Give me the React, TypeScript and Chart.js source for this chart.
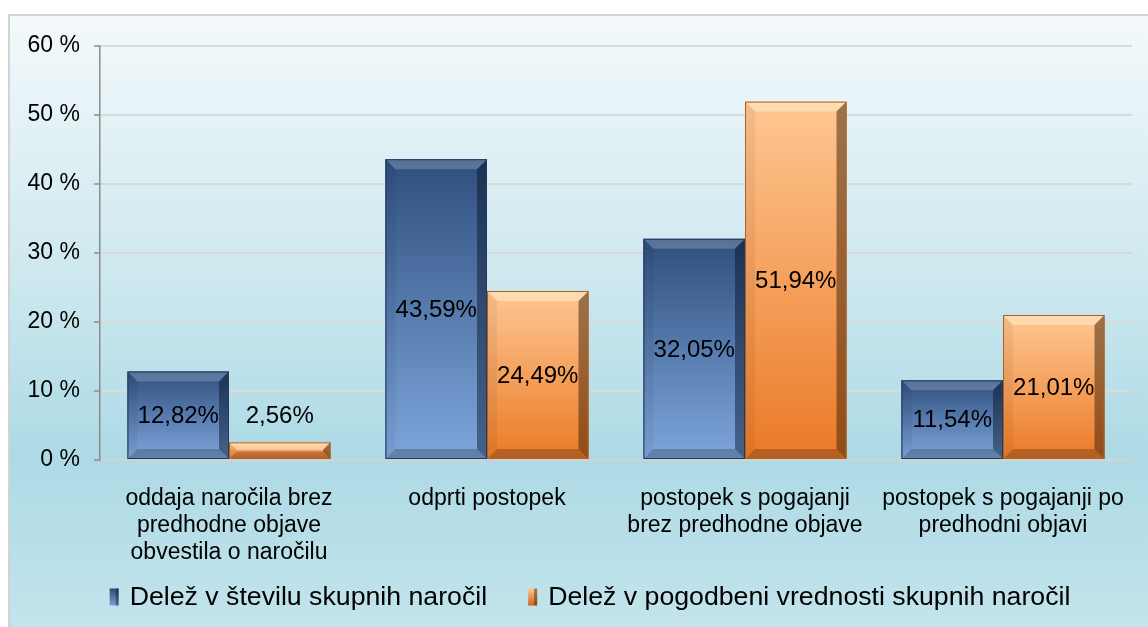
import React, { useEffect, useRef } from "react";
import { Chart, registerables } from "chart.js";

Chart.register(...registerables);

const categories: string[][] = [
  ["oddaja naročila brez", "predhodne objave", "obvestila o naročilu"],
  ["odprti postopek"],
  ["postopek s pogajanji", "brez predhodne objave"],
  ["postopek s pogajanji po", "predhodni objavi"],
];
const seriesNames = [
  "Delež v številu skupnih naročil",
  "Delež v pogodbeni vrednosti skupnih naročil",
];
const shareCount = [12.82, 43.59, 32.05, 11.54];
const shareValue = [2.56, 24.49, 51.94, 21.01];
const yTicks = [0, 10, 20, 30, 40, 50, 60];

const FONT = "'Liberation Sans', Arial, sans-serif";

const palettes = [
  { top: "#2f4f7e", bottom: "#7ea6dc", edge: "#22395e", legendTop: "#2c4a78", legendBottom: "#7aa0d4" },
  { top: "#ffc792", bottom: "#ea7a27", edge: "#a8622a", legendTop: "#ffc792", legendBottom: "#c8651f" },
];

const fmt = (v: number) => v.toFixed(2).replace(".", ",") + "%";

const bgPlugin = {
  id: "bgPlugin",
  beforeDraw(chart: any) {
    const { ctx, width, height } = chart;
    ctx.save();
    ctx.fillStyle = "#ffffff";
    ctx.fillRect(0, 0, width, height);
    const g = ctx.createLinearGradient(0, 15, 0, height);
    g.addColorStop(0, "#f4f9fb");
    g.addColorStop(0.45, "#cbe7ee");
    g.addColorStop(0.72, "#addae5");
    g.addColorStop(1, "#c3e4ec");
    ctx.fillStyle = g;
    ctx.fillRect(9, 15, width - 9, height - 15);
    ctx.strokeStyle = "#d3d3d3";
    ctx.lineWidth = 2;
    ctx.beginPath();
    ctx.moveTo(9, height);
    ctx.lineTo(9, 15);
    ctx.lineTo(width, 15);
    ctx.stroke();
    ctx.restore();
  },
};

function poly(ctx: CanvasRenderingContext2D, pts: number[][], fill: string) {
  ctx.beginPath();
  ctx.moveTo(pts[0][0], pts[0][1]);
  for (let i = 1; i < pts.length; i++) ctx.lineTo(pts[i][0], pts[i][1]);
  ctx.closePath();
  ctx.fillStyle = fill;
  ctx.fill();
}

const barPlugin = {
  id: "barPlugin",
  afterDatasetsDraw(chart: any) {
    const ctx: CanvasRenderingContext2D = chart.ctx;
    ctx.save();
    chart.data.datasets.forEach((ds: any, di: number) => {
      const meta = chart.getDatasetMeta(di);
      const pal = palettes[di];
      meta.data.forEach((el: any) => {
        const p = el.getProps(["x", "y", "base", "width"], true);
        const x0 = p.x - p.width / 2;
        const x1 = p.x + p.width / 2;
        const y0 = Math.min(p.y, p.base);
        const y1 = Math.max(p.y, p.base);
        const h = y1 - y0;
        const g = ctx.createLinearGradient(0, y0, 0, y1);
        g.addColorStop(0, pal.top);
        g.addColorStop(1, pal.bottom);
        ctx.fillStyle = g;
        ctx.fillRect(x0, y0, x1 - x0, h);
        const b = Math.min(10, h / 2.2, (x1 - x0) / 2);
        poly(ctx, [[x0, y0], [x1, y0], [x1 - b, y0 + b], [x0 + b, y0 + b]], di === 0 ? "rgba(255,255,255,0.2)" : "rgba(255,245,215,0.45)");
        poly(ctx, [[x0, y0], [x0 + b, y0 + b], [x0 + b, y1 - b], [x0, y1]], "rgba(0,0,0,0.05)");
        poly(ctx, [[x1, y0], [x1, y1], [x1 - b, y1 - b], [x1 - b, y0 + b]], di === 0 ? "rgba(5,15,35,0.45)" : "rgba(60,30,5,0.5)");
        poly(ctx, [[x0, y1], [x0 + b, y1 - b], [x1 - b, y1 - b], [x1, y1]], "rgba(0,0,0,0.22)");
        ctx.strokeStyle = pal.edge;
        ctx.lineWidth = 1;
        ctx.strokeRect(x0 + 0.5, y0 + 0.5, x1 - x0 - 1, h - 1);
      });
    });
    ctx.fillStyle = "#000000";
    ctx.font = `24px ${FONT}`;
    ctx.textAlign = "center";
    ctx.textBaseline = "middle";
    chart.data.datasets.forEach((ds: any, di: number) => {
      const meta = chart.getDatasetMeta(di);
      meta.data.forEach((el: any, i: number) => {
        const p = el.getProps(["x", "y", "base"], true);
        const top = Math.min(p.y, p.base);
        const h = Math.abs(p.base - p.y);
        const y = h < 45 ? top - 26 : top + h / 2 + 1;
        ctx.fillText(fmt(ds.data[i]), p.x, y);
      });
    });
    ctx.restore();
  },
};

const legendPlugin = {
  id: "legendPlugin",
  afterDraw(chart: any) {
    const ctx: CanvasRenderingContext2D = chart.ctx;
    ctx.save();
    ctx.font = `26.7px ${FONT}`;
    ctx.textBaseline = "middle";
    ctx.textAlign = "left";
    const cy = 597;
    const markerW = 9;
    const markerH = 17;
    const gapText = 11;
    const gapItem = 41;
    const widths = chart.data.datasets.map((d: any) => ctx.measureText(d.label).width);
    const total = widths.reduce((a: number, w: number) => a + markerW + gapText + w, 0) + gapItem * (widths.length - 1);
    let x = 590 - total / 2;
    chart.data.datasets.forEach((d: any, i: number) => {
      const pal = palettes[i];
      const g = ctx.createLinearGradient(0, cy - markerH / 2, 0, cy + markerH / 2);
      g.addColorStop(0, pal.legendTop);
      g.addColorStop(1, pal.legendBottom);
      ctx.fillStyle = g;
      ctx.fillRect(x, cy - markerH / 2, markerW, markerH);
      ctx.fillStyle = i === 0 ? "rgba(0,0,0,0.35)" : "rgba(60,30,5,0.45)";
      ctx.fillRect(x + markerW - 3, cy - markerH / 2, 3, markerH);
      x += markerW + gapText;
      ctx.fillStyle = "#000000";
      ctx.fillText(d.label, x, cy + 1);
      x += widths[i] + gapItem;
    });
    ctx.restore();
  },
};

export default function App() {
  const ref = useRef<HTMLCanvasElement | null>(null);
  useEffect(() => {
    document.body.style.margin = "0";
    if (!ref.current) return;
    const chart = new Chart(ref.current, {
      type: "bar",
      data: {
        labels: categories,
        datasets: [
          { label: seriesNames[0], data: shareCount, backgroundColor: palettes[0].top, borderWidth: 0 },
          { label: seriesNames[1], data: shareValue, backgroundColor: palettes[1].top, borderWidth: 0 },
        ],
      },
      options: {
        responsive: false,
        animation: false,
        layout: { padding: { top: 46, left: 0, right: 16, bottom: 0 } },
        plugins: {
          legend: { display: false },
          tooltip: { enabled: false },
        },
        datasets: {
          bar: { categoryPercentage: 0.787, barPercentage: 1 },
        },
        scales: {
          x: {
            grid: { display: false },
            border: { display: true, color: "#d2d2d2", width: 2 },
            ticks: {
              color: "#000000",
              font: { family: FONT, size: 23, lineHeight: 27 / 23 },
              padding: 17,
              maxRotation: 0,
              autoSkip: false,
            },
            afterFit(scale: any) {
              scale.height = 167;
            },
          },
          y: {
            min: 0,
            max: 60,
            afterBuildTicks(scale: any) {
              scale.ticks = yTicks.map((v) => ({ value: v }));
            },
            grid: {
              color: "#d9d9d9",
              lineWidth: 2,
              drawTicks: true,
              tickLength: 6,
              tickColor: "#8c8c8c",
              tickWidth: 1.5,
            },
            border: { display: true, color: "#8c8c8c", width: 1.5 },
            ticks: {
              color: "#000000",
              font: { family: FONT, size: 23 },
              padding: 14,
              callback: (v: any) => `${v} %`,
            },
            afterFit(scale: any) {
              scale.width = 100;
            },
          },
        },
      },
      plugins: [bgPlugin, barPlugin, legendPlugin],
    });
    return () => chart.destroy();
  }, []);
  return (
    <div style={{ width: 1148, height: 627 }}>
      <canvas ref={ref} width={1148} height={627} style={{ display: "block" }} />
    </div>
  );
}
